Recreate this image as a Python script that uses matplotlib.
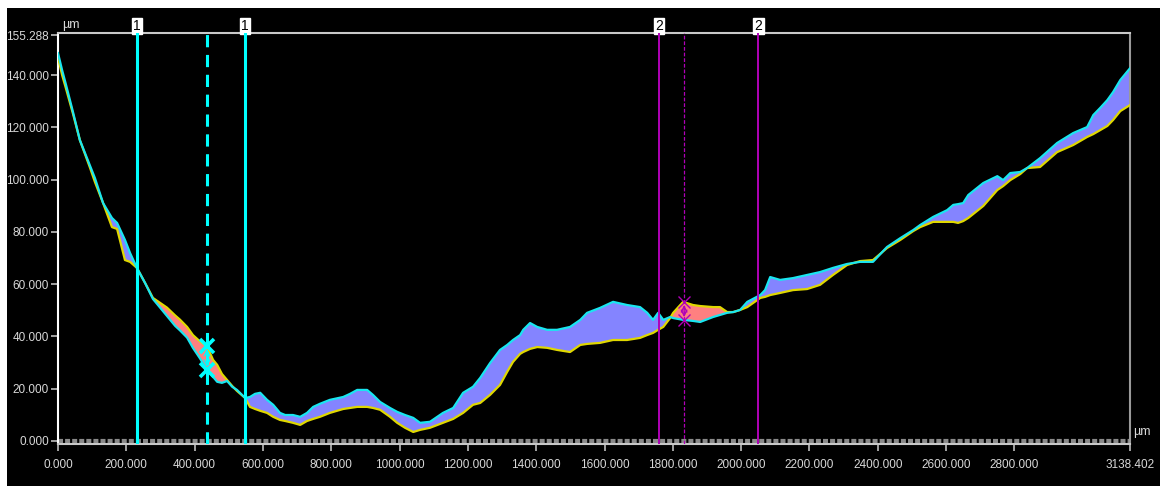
import matplotlib.pyplot as plt
import numpy as np
from matplotlib.patches import Rectangle

plt.rcParams['font.family'] = ['Liberation Sans', 'DejaVu Sans']

# profile positions (um) and the two measured heights (um)
pos = np.array([0, 12, 23, 44, 64, 94, 108, 132, 158, 173, 196, 211, 231, 255, 278,
                299, 319, 343, 357, 378, 395, 416, 436, 454, 466, 480, 495, 510, 524,
                548, 562, 577, 592, 612, 630, 650, 665, 688, 709, 729, 747, 767, 796,
                835, 855, 876, 905, 922, 943, 972, 993, 1016, 1040, 1060, 1089, 1127,
                1157, 1186, 1215, 1236, 1265, 1294, 1315, 1332, 1353, 1362, 1382, 1403,
                1432, 1461, 1499, 1529, 1549, 1587, 1625, 1666, 1704, 1725, 1742, 1757,
                1772, 1792, 1801, 1830, 1859, 1880, 1918, 1938, 1959, 1977, 1997, 2018,
                2056, 2070, 2085, 2114, 2152, 2193, 2231, 2269, 2310, 2348, 2386, 2427,
                2466, 2504, 2524, 2562, 2603, 2621, 2635, 2650, 2665, 2709, 2750, 2767,
                2788, 2817, 2837, 2875, 2925, 2972, 3013, 3031, 3051, 3072, 3089, 3110,
                3138.402])
profile_1 = np.array([148.4, 141.9, 136.5, 125.8, 115.1, 105.2, 100.6, 91.0, 85.3, 83.4,
                      76.9, 71.9, 66.2, 60.4, 54.3, 51.0, 47.8, 44.0, 42.3, 39.5, 35.6,
                      31.5, 27.2, 24.5, 22.6, 22.2, 22.9, 20.7, 19.5, 16.4, 16.8, 18.0,
                      18.4, 15.7, 13.8, 10.7, 9.9, 9.9, 9.2, 10.7, 13.0, 14.2, 15.7, 16.8,
                      18.0, 19.5, 19.5, 17.6, 14.9, 12.6, 11.1, 9.9, 8.8, 6.9, 7.3, 10.7,
                      12.6, 18.4, 20.7, 24.1, 29.8, 34.8, 36.7, 38.6, 40.5, 42.5, 45.1,
                      43.6, 42.5, 42.5, 43.6, 46.3, 49.0, 50.9, 53.2, 52.0, 51.2, 49.0,
                      46.3, 49.0, 46.3, 47.4, 47.0, 46.3, 45.9, 45.5, 47.4, 48.2, 49.0,
                      49.3, 50.1, 53.2, 55.8, 57.7, 62.7, 61.6, 62.3, 63.5, 64.6, 66.2,
                      67.7, 68.5, 68.5, 74.2, 77.6, 80.7, 82.6, 85.7, 88.3, 90.3, 90.6,
                      91.0, 94.1, 98.7, 101.3, 99.8, 102.5, 102.9, 104.4, 108.2, 114.0,
                      117.8, 120.1, 124.7, 127.4, 130.4, 133.5, 138.1, 142.6])
profile_2 = np.array([146.9, 140.0, 135.0, 125.1, 115.1, 104.4, 99.1, 91.0, 81.8, 81.1,
                      69.2, 68.5, 66.2, 60.4, 54.7, 52.8, 51.0, 48.0, 46.4, 43.6, 40.5,
                      38.0, 36.3, 31.0, 29.1, 25.6, 23.3, 21.0, 19.1, 16.4, 13.0, 12.2,
                      11.5, 10.7, 9.2, 8.0, 7.6, 6.9, 6.1, 7.6, 8.4, 9.2, 10.7, 12.2,
                      12.6, 13.0, 13.0, 12.6, 11.9, 9.2, 6.9, 5.0, 3.4, 4.2, 5.0, 6.9,
                      8.4, 10.7, 13.8, 14.5, 17.6, 21.4, 26.4, 30.2, 33.3, 34.0, 35.2,
                      35.9, 35.6, 34.8, 34.0, 36.7, 37.1, 37.5, 38.6, 38.6, 39.4, 40.5,
                      41.3, 42.5, 43.6, 47.0, 49.0, 53.2, 52.0, 51.6, 51.2, 51.2, 49.3,
                      49.3, 50.1, 51.2, 54.7, 55.1, 55.8, 56.6, 57.7, 58.1, 59.7, 63.5,
                      67.3, 68.8, 69.2, 73.8, 76.9, 80.3, 81.8, 83.8, 83.8, 83.8, 83.4,
                      84.1, 85.3, 89.9, 96.0, 97.5, 99.8, 102.1, 104.4, 104.8, 110.5,
                      113.2, 116.3, 117.4, 118.9, 120.5, 122.8, 126.2, 128.5])

x_max = 3138.402
y_max = 155.288
x_ticks = [0, 200, 400, 600, 800, 1000, 1200, 1400, 1600, 1800, 2000, 2200, 2400,
           2600, 2800, x_max]
y_ticks = [0, 20, 40, 60, 80, 100, 120, 140, y_max]

cursor_1 = [231, 548]
cursor_1_mid = 436
cursor_2 = [1760, 2050]
cursor_2_mid = 1833

CYAN = '#19e6f0'
YELLOW = '#e0d800'
MAGENTA = '#b000b8'
TXT = '#d8d8d8'

fig = plt.figure(figsize=(11.6, 4.86), dpi=100, facecolor='white')
fig.patches.append(Rectangle((7 / 1160, 0), 1, 1 - 8 / 486, transform=fig.transFigure,
                             facecolor='black', edgecolor='none', zorder=-10))
ax = fig.add_axes([58 / 1160, 1 - 444 / 486, (1130 - 58) / 1160, (444 - 33) / 486])
ax.set_facecolor('black')

ax.fill_between(pos, profile_1, profile_2, where=profile_1 >= profile_2,
                interpolate=True, color='#8484ff', linewidth=0, zorder=2)
ax.fill_between(pos, profile_1, profile_2, where=profile_1 < profile_2,
                interpolate=True, color='#ff8080', linewidth=0, zorder=2)
ax.plot(pos, profile_2, color=YELLOW, lw=1.6, zorder=3)
ax.plot(pos, profile_1, color=CYAN, lw=1.6, zorder=4)

# zero reference
ax.axhline(0, color='#8a8a8a', lw=3, ls=(0, (1.2, 0.5)), zorder=1)

# cursors
for c in cursor_1:
    ax.axvline(c, color='#00ffff', lw=2.2, zorder=5)
ax.axvline(cursor_1_mid, color='#00ffff', lw=2.2, ls=(0, (4, 2.5)), zorder=5)
for c in cursor_2:
    ax.axvline(c, color=MAGENTA, lw=1.4, zorder=5)
ax.axvline(cursor_2_mid, color=MAGENTA, lw=0.9, ls=(0, (3, 1.5)), zorder=5)

for cx, col, ms, mew in [(cursor_1_mid, '#00ffff', 10, 2.6), (cursor_2_mid, MAGENTA, 8, 1.0)]:
    ya = np.interp(cx, pos, profile_1)
    yb = np.interp(cx, pos, profile_2)
    ax.plot([cx, cx], [ya, yb], ls='none', marker='x', ms=ms, mew=mew, color=col, zorder=6)
    ax.annotate('', xy=(cx, ya), xytext=(cx, yb),
                arrowprops=dict(arrowstyle='<->', color=col, lw=1.0), zorder=6)

# cursor tags above the frame
for c, tag in [(cursor_1[0], '1'), (cursor_1[1], '1'), (cursor_2[0], '2'), (cursor_2[1], '2')]:
    ax.text(c, 1.0, tag, transform=ax.get_xaxis_transform(), ha='center', va='bottom',
            fontsize=10, color='black',
            bbox=dict(boxstyle='square,pad=0.1', facecolor='white', edgecolor='white'))

ax.set_xlim(0, x_max)
ax.set_ylim(-1.2, y_max + 0.8)
ax.set_xticks(x_ticks)
ax.set_xticklabels(['%.3f' % v for v in x_ticks])
ax.set_yticks(y_ticks)
ax.set_yticklabels(['%.3f' % v for v in y_ticks])
ax.tick_params(colors='#bdbdbd', labelcolor=TXT, labelsize=8.5, length=5, width=1.2)
ax.tick_params(axis='y', pad=1.5)
ax.tick_params(axis='x', pad=6)

ax.spines['left'].set_color('white')
ax.spines['bottom'].set_color('#c8c8c8')
ax.spines['top'].set_color('#c8c8c8')
ax.spines['right'].set_color('#9a9a9a')
for s in ax.spines.values():
    s.set_linewidth(1.5)

ax.text(0.004, 1.005, 'µm', transform=ax.transAxes, ha='left', va='bottom',
        fontsize=9, color=TXT)
ax.text(1.003, 0.015, 'µm', transform=ax.transAxes, ha='left', va='bottom',
        fontsize=9, color=TXT)

plt.savefig('out.png', dpi=100, facecolor=fig.get_facecolor())
